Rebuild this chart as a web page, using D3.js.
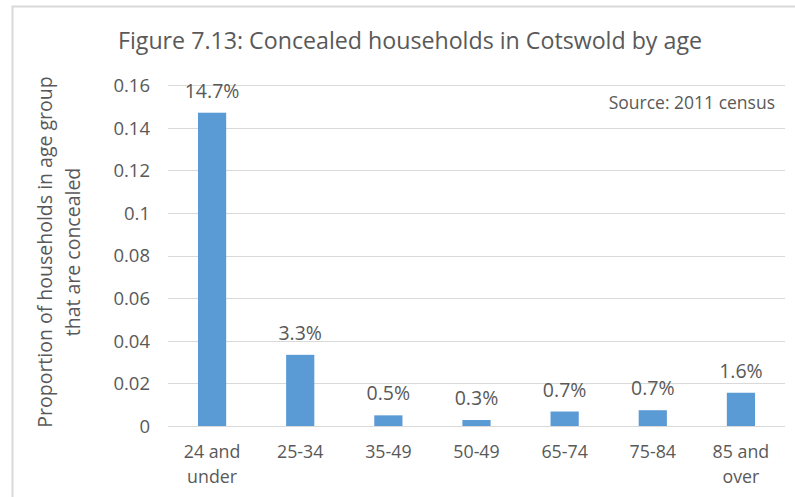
<!DOCTYPE html>
<html>
<head>
<meta charset="utf-8">
<script src="https://cdn.jsdelivr.net/npm/d3@7"></script>
<style>
  html, body { margin: 0; padding: 0; background: #fff; }
  svg { display: block; }
  text { font-family: "Open Sans", "DejaVu Sans", sans-serif; fill: #595959; }
</style>
</head>
<body>
<svg id="chart" width="795" height="497"></svg>
<script>
// Concealed households by age group (proportion of households), 2011 census
const categories = [["24 and", "under"], ["25-34"], ["35-49"], ["50-49"], ["65-74"], ["75-84"], ["85 and", "over"]];
const values = [0.147, 0.0334, 0.005, 0.0028, 0.0068, 0.0074, 0.0156];
const yTicks = [0, 0.02, 0.04, 0.06, 0.08, 0.1, 0.12, 0.14, 0.16];
const titleText = "Figure 7.13: Concealed households in Cotswold by age";
const sourceText = "Source: 2011 census";
const yTitle = ["Proportion of households in age group", "that are concealed"];

const svg = d3.select("#chart");
const W = 795, H = 497;
const plot = { left: 168, right: 785, top: 85, bottom: 426 };

// outer chart frame
svg.append("rect")
  .attr("x", 12.5).attr("y", 6.5)
  .attr("width", W).attr("height", H)
  .attr("fill", "none").attr("stroke", "#d9d9d9").attr("stroke-width", 2);

const x = d3.scaleBand()
  .domain(d3.range(categories.length))
  .range([plot.left, plot.right])
  .paddingInner(0.68).paddingOuter(0.34);

const y = d3.scaleLinear().domain([0, 0.16]).range([plot.bottom, plot.top]);

// gridlines
svg.append("g")
  .selectAll("line")
  .data(yTicks)
  .join("line")
  .attr("x1", plot.left).attr("x2", plot.right)
  .attr("y1", d => Math.round(y(d)) + 0.5).attr("y2", d => Math.round(y(d)) + 0.5)
  .attr("stroke", "#d9d9d9").attr("stroke-width", 1);

// y axis labels
const yAxis = d3.axisLeft(y).tickValues(yTicks).tickSize(0).tickPadding(18)
  .tickFormat(d => d3.format("")(+d.toFixed(2)));
const gy = svg.append("g").attr("transform", `translate(${plot.left},0)`).call(yAxis);
gy.select(".domain").remove();
gy.selectAll("text")
  .style("font-family", '"Open Sans", sans-serif')
  .attr("font-size", 18.5).attr("fill", "#595959").attr("dy", "0.35em");

// bars
svg.append("g")
  .selectAll("rect")
  .data(values)
  .join("rect")
  .attr("x", (d, i) => x(i))
  .attr("width", x.bandwidth())
  .attr("y", d => y(d))
  .attr("height", d => y(0) - y(d))
  .attr("fill", "#5b9bd5");

// value labels
const pct = d3.format(".1%");
svg.append("g")
  .selectAll("text")
  .data(values)
  .join("text")
  .attr("x", (d, i) => x(i) + x.bandwidth() / 2)
  .attr("y", d => y(d) - 15)
  .attr("text-anchor", "middle")
  .attr("font-size", 19.5)
  .text(d => pct(d));

// category labels
const cat = svg.append("g")
  .selectAll("text")
  .data(categories)
  .join("text")
  .attr("x", (d, i) => x(i) + x.bandwidth() / 2)
  .attr("y", 458)
  .attr("text-anchor", "middle")
  .attr("font-size", 17.8);
cat.selectAll("tspan")
  .data(d => d)
  .join("tspan")
  .attr("x", function () { return d3.select(this.parentNode).attr("x"); })
  .attr("dy", (d, i) => i === 0 ? 0 : 25)
  .text(d => d);

// title
svg.append("text")
  .attr("x", 410).attr("y", 49)
  .attr("text-anchor", "middle")
  .attr("font-size", 23.2)
  .text(titleText);

// source note
svg.append("text")
  .attr("x", 775).attr("y", 109)
  .attr("text-anchor", "end")
  .attr("font-size", 17.5)
  .text(sourceText);

// y axis title
const yt = svg.append("text")
  .attr("transform", "translate(0,252) rotate(-90)")
  .attr("text-anchor", "middle")
  .attr("font-size", 19.5);
yt.selectAll("tspan")
  .data(yTitle)
  .join("tspan")
  .attr("x", 0)
  .attr("y", (d, i) => i === 0 ? 52 : 80)
  .text(d => d);
</script>
</body>
</html>
